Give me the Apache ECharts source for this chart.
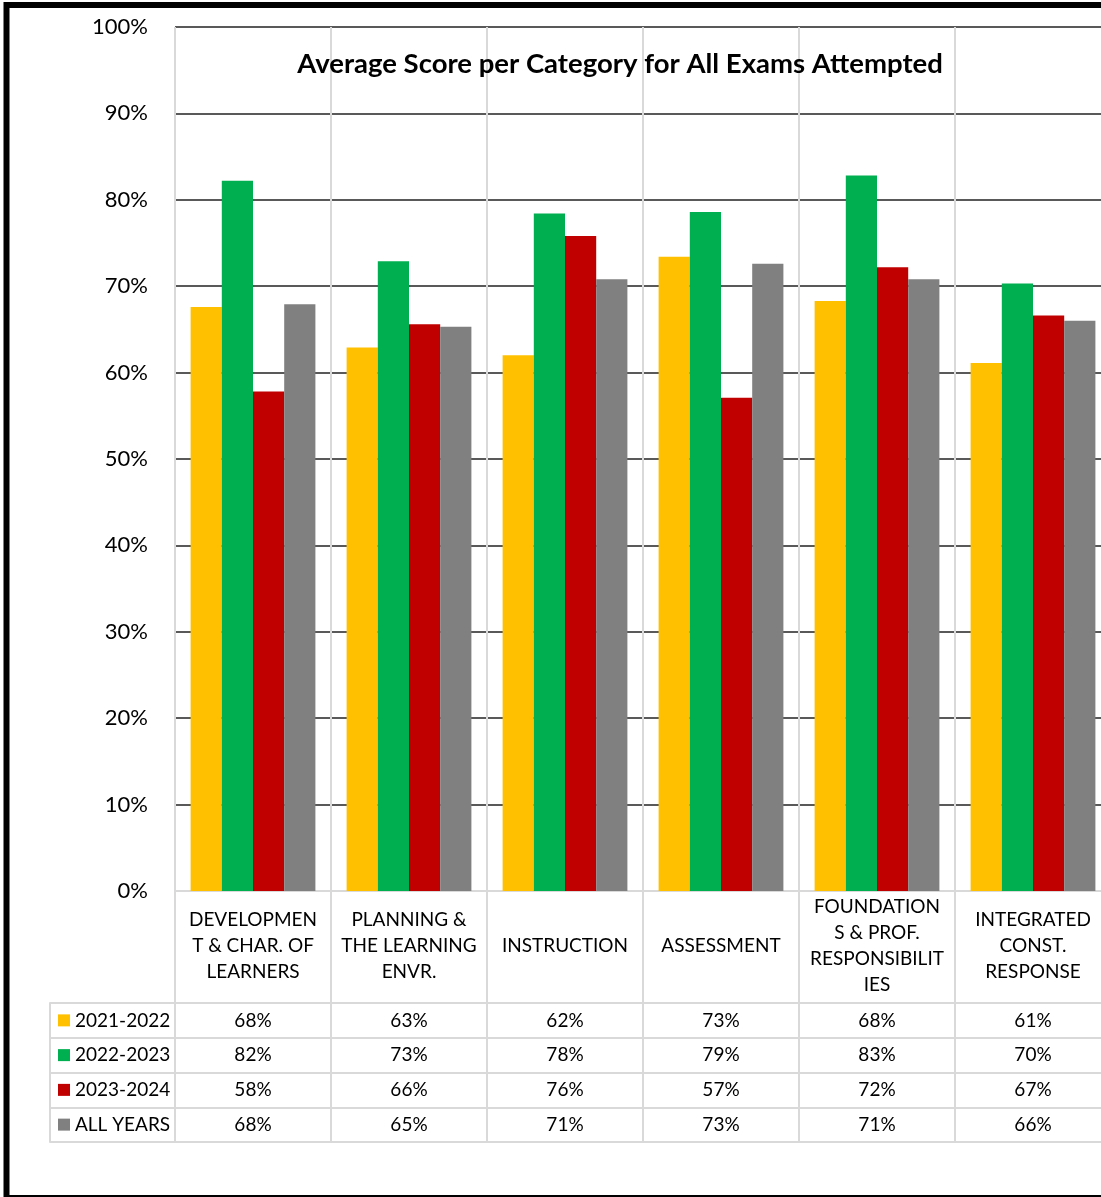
<!DOCTYPE html>
<html>
<head>
<meta charset="utf-8">
<script src="https://cdn.jsdelivr.net/npm/echarts@6/dist/echarts.min.js"></script>
<style>
html,body{margin:0;padding:0;background:#fff;overflow:hidden;}
#chart{width:1101px;height:1197px;}
</style>
</head>
<body>
<div id="chart"></div>
<script>
const titleText = 'Average Score per Category for All Exams Attempted';
const categories = ['DEVELOPMEN\nT & CHAR. OF\nLEARNERS', 'PLANNING &\nTHE LEARNING\nENVR.', 'INSTRUCTION', 'ASSESSMENT', 'FOUNDATION\nS & PROF.\nRESPONSIBILIT\nIES', 'INTEGRATED\nCONST.\nRESPONSE'];
const seriesNames = ['2021-2022', '2022-2023', '2023-2024', 'ALL YEARS'];
const s2021 = [67.6, 62.9, 62.0, 73.4, 68.3, 61.1];
const s2022 = [82.2, 72.9, 78.4, 78.6, 82.8, 70.3];
const s2023 = [57.8, 65.6, 75.8, 57.1, 72.2, 66.6];
const sAll = [67.9, 65.3, 70.8, 72.6, 70.8, 66.0];
const yTicks = [0, 10, 20, 30, 40, 50, 60, 70, 80, 90, 100];
const colors = ['#FFC000', '#00B050', '#C00000', '#808080'];

const seriesData = [s2021, s2022, s2023, sAll];
const FONT = 'Lato';
const light = '#D9D9D9';

const chart = echarts.init(document.getElementById('chart'), null, {renderer: 'canvas'});

const rich = {};
seriesNames.forEach((n, i) => {
  rich['sq' + i] = {width: 12, height: 12, backgroundColor: colors[i]};
});
rich.t = {fontFamily: FONT, fontSize: 19, color: '#000', padding: [0, 0, 0, 5]};

const barSeries = seriesNames.map((n, i) => ({
  name: n,
  type: 'bar',
  xAxisIndex: 0, yAxisIndex: 0,
  data: seriesData[i],
  barGap: '0%',
  barCategoryGap: '20%',
  itemStyle: {color: colors[i]},
  silent: true
}));

const tableSeries = seriesNames.map((n, i) => ({
  type: 'scatter',
  xAxisIndex: 1, yAxisIndex: 1,
  symbolSize: 0,
  itemStyle: {color: '#000'},
  silent: true,
  data: seriesData[i].map((v, ci) => [ci, i, v]),
  label: {
    show: true, position: 'inside', opacity: 1,
    formatter: p => Math.round(p.value[2]) + '%',
    fontFamily: FONT, fontSize: 19, color: '#000'
  }
}));

const option = {
  animation: false,
  backgroundColor: '#fff',
  title: {
    text: titleText,
    left: 615, top: 45, textAlign: 'center',
    textStyle: {fontFamily: FONT, fontWeight: 'bold', fontSize: 27.5, color: '#000'}
  },
  grid: [
    {left: 175, width: 936, top: 27, height: 864, containLabel: false, outerBoundsMode: 'none'},
    {left: 175, width: 936, top: 1003, height: 139, containLabel: false, outerBoundsMode: 'none'}
  ],
  xAxis: [
    {
      type: 'category', gridIndex: 0, data: categories,
      axisLine: {show: true, lineStyle: {color: light, width: 2}},
      axisTick: {show: true, length: 112, interval: 0, lineStyle: {color: light, width: 2}},
      splitLine: {show: true, interval: 0, lineStyle: {color: light, width: 2}},
      axisLabel: {
        interval: 0, margin: 55, verticalAlign: 'middle', lineHeight: 26,
        fontFamily: FONT, fontSize: 19, color: '#000'
      }
    },
    {
      type: 'category', gridIndex: 1, data: categories,
      axisLine: {show: false}, axisTick: {show: false}, axisLabel: {show: false},
      splitLine: {show: true, interval: 0, lineStyle: {color: light, width: 2}}
    }
  ],
  yAxis: [
    {
      type: 'value', gridIndex: 0, min: 0, max: 100, interval: 10,
      axisLine: {show: false}, axisTick: {show: false},
      splitLine: {show: true, showMinLine: false, lineStyle: {color: '#595959', width: 2}},
      axisLabel: {
        margin: 27, fontFamily: FONT, fontSize: 22, color: '#000',
        formatter: v => (yTicks.indexOf(v) >= 0 ? v + '%' : '')
      }
    },
    {
      type: 'category', gridIndex: 1, data: seriesNames, inverse: true,
      axisLine: {show: true, lineStyle: {color: light, width: 2}},
      axisTick: {show: true, length: 125, interval: 0, lineStyle: {color: light, width: 2}},
      splitLine: {show: true, interval: 0, lineStyle: {color: light, width: 2}},
      axisLabel: {
        interval: 0, align: 'left', margin: 117,
        formatter: (v, i) => '{sq' + i + '|}{t|' + v + '}',
        rich: rich
      }
    },
    {
      type: 'category', gridIndex: 1, data: seriesNames, inverse: true,
      position: 'left', offset: 125,
      axisLine: {show: true, lineStyle: {color: light, width: 2}},
      axisTick: {show: false}, axisLabel: {show: false}, splitLine: {show: false}
    }
  ],
  graphic: [
    {type: 'line', silent: true, z: 100, shape: {x1: 6.5, y1: 5, x2: 1200, y2: 5}, style: {stroke: '#000', lineWidth: 6}},
    {type: 'line', silent: true, z: 100, shape: {x1: 6.5, y1: 2, x2: 6.5, y2: 1200}, style: {stroke: '#000', lineWidth: 6}},
    {type: 'line', silent: true, z: 100, shape: {x1: 6.5, y1: 1198, x2: 1200, y2: 1198}, style: {stroke: '#000', lineWidth: 6}}
  ],
  series: barSeries.concat(tableSeries)
};
chart.setOption(option);
</script>
</body>
</html>
